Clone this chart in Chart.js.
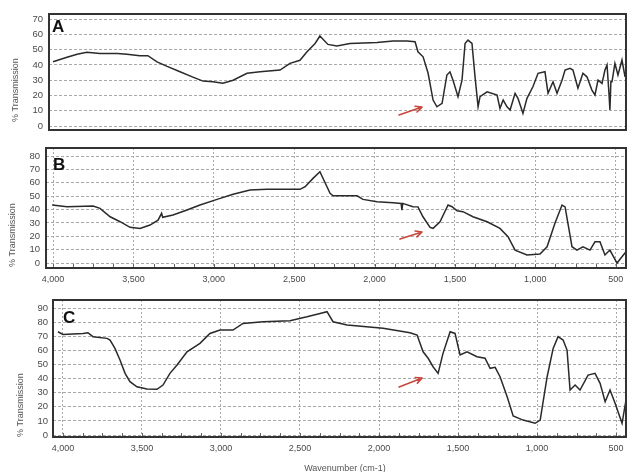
<!DOCTYPE html>
<html><head><meta charset="utf-8">
<script src="https://cdn.jsdelivr.net/npm/chart.js@4.4.1/dist/chart.umd.min.js"></script>
<style>
html,body{margin:0;padding:0;background:#fff;}
body{width:627px;height:472px;position:relative;overflow:hidden;}
canvas{position:absolute;left:0;}
</style></head><body>
<canvas id="cA" width="627" height="133" style="top:0px"></canvas>
<canvas id="cB" width="627" height="152" style="top:135px"></canvas>
<canvas id="cC" width="627" height="182" style="top:290px"></canvas>
<script>
// ---- data (wavenumber cm-1, % transmission) ----
const wavenumberA = [4000,3913,3850,3790,3708,3600,3540,3460,3410,3353,3290,3210,3130,3067,3005,2943,2880,2793,2712,2588,2526,2464,2420,2370,2340,2290,2234,2153,1985,1885,1798,1748,1730,1698,1667,1636,1612,1580,1550,1531,1512,1481,1456,1437,1419,1394,1375,1356,1344,1300,1238,1220,1200,1176,1157,1126,1108,1077,1052,1015,983,940,921,890,865,834,815,784,766,735,704,679,648,629,610,585,567,554,542,536,530,523,505,486,461,442];
const transmissionA = [42,45,47,48.2,47.5,47.5,47,46,46,42,39,35.5,32,29.4,29,28,30,34.5,35.5,36.6,41,43,48.6,54,58.9,53.4,52.3,54,54.7,55.6,55.6,55.1,48.6,45.3,34.5,17,12.6,14.8,33.4,35.5,30,19.2,30,54,56.2,54,32.2,12.6,19.2,22.4,20.3,11.6,17,12.6,10.5,21.4,18.1,8.3,18.1,25.7,34.5,35.5,21.4,29,21.4,30,36.6,37.7,36.6,24.7,34.5,32.2,23.5,20.3,30,27.9,36.6,39.9,21.4,10.5,29,29,41,33.4,43.2,32.2];

const wavenumberB = [4006,3913,3751,3708,3645,3583,3521,3459,3397,3347,3325,3318,3254,3167,3086,2980,2880,2775,2669,2464,2432,2383,2340,2277,2258,2109,2072,1985,1885,1835,1830,1825,1761,1730,1699,1655,1636,1593,1543,1518,1487,1450,1388,1300,1220,1170,1126,1052,971,927,878,834,815,772,741,704,660,629,598,567,536,492,461,436];
const transmissionB = [43.4,42,42.6,40.9,34.6,30.9,26.7,25.9,28.4,32.1,37.2,34.2,35.9,39.6,43.4,47.6,51.4,54.6,55.1,55.1,57.1,63.3,68.3,52.1,50.3,50.3,47.6,45.8,45.1,44.6,39.6,44.6,42.1,42,34.6,26.7,25.9,30.9,43.4,42.1,39.1,38.4,34.6,30.9,25.9,19.7,9.7,6,6.7,12.2,29.7,43.4,42,12.2,9.7,12.2,9.7,15.9,15.9,6,9.7,0,4.7,8.5];

const wavenumberC = [4032,4000,3873,3842,3810,3721,3702,3671,3639,3607,3576,3532,3468,3405,3367,3323,3278,3215,3133,3070,3006,2924,2861,2734,2563,2456,2373,2329,2291,2202,1974,1804,1759,1721,1689,1658,1626,1595,1550,1519,1487,1443,1380,1329,1297,1265,1234,1189,1151,1088,1012,980,936,898,867,835,810,791,759,728,677,633,601,569,538,506,462,437];
const transmissionC = [73.2,71.3,72,72.5,69.7,68.5,67.3,61.4,53.2,43.7,37.8,34.2,32.6,32.4,35.4,43.7,49.6,59,65,72,74.4,74.4,79.1,80.3,81,83.8,86.2,87.4,80.3,78,75.6,72.5,70.9,59,54.4,48.4,43.7,57.9,73.2,72,56.7,59,55.5,54.4,47.3,48,41.3,27.1,13.5,10.6,8.3,10.6,41.3,61.4,69.7,67.3,60.2,31.9,35.4,31.9,42.5,43.7,36.6,23.6,31.9,22.5,8.3,24.8];

// tick labels
const xTickValues = [4000,3500,3000,2500,2000,1500,1000,500];
const xMinorStep = 125;
const yTicksA = [0,10,20,30,40,50,60,70];
const yTicksB = [0,10,20,30,40,50,60,70,80];
const yTicksC = [0,10,20,30,40,50,60,70,80,90];

// red arrows marking the ~1640 cm-1 band: [fromX, fromY, toX, toY] in data units
const arrowA = [1848, 7.2, 1705, 12.4];
const arrowB = [1842, 17.9, 1705, 23.2];
const arrowC = [1873, 34, 1727, 40.4];

const yTitle = '% Transmission';
const xTitle = 'Wavenumber (cm-1)';

// ---- rendering ----
const F = '"Liberation Sans", Arial, sans-serif';

const deco = {
  id: 'panelDeco',
  afterDatasetsDraw(chart, args, o) {
    const {ctx, chartArea: a, scales: {x, y}} = chart;
    ctx.save();
    // minor ticks inside bottom edge
    if (o.minor) {
      ctx.strokeStyle = '#666'; ctx.lineWidth = 1;
      ctx.beginPath();
      for (let v = 4000; v >= x.min; v -= xMinorStep) {
        const px = Math.round(x.getPixelForValue(v)) + 0.5;
        if (px < a.left + 2 || px > a.right - 2) continue;
        ctx.moveTo(px, a.bottom); ctx.lineTo(px, a.bottom - 4);
      }
      ctx.stroke();
    }
    // arrow
    const x1 = x.getPixelForValue(o.arrow[0]), y1 = y.getPixelForValue(o.arrow[1]);
    const x2 = x.getPixelForValue(o.arrow[2]), y2 = y.getPixelForValue(o.arrow[3]);
    ctx.strokeStyle = '#c8463c'; ctx.lineWidth = 1.6; ctx.lineCap = 'round';
    ctx.beginPath(); ctx.moveTo(x1, y1); ctx.lineTo(x2, y2);
    const ang = Math.atan2(y2 - y1, x2 - x1), hl = 7;
    ctx.moveTo(x2, y2); ctx.lineTo(x2 - hl * Math.cos(ang - 0.45), y2 - hl * Math.sin(ang - 0.45));
    ctx.moveTo(x2, y2); ctx.lineTo(x2 - hl * Math.cos(ang + 0.45), y2 - hl * Math.sin(ang + 0.45));
    ctx.stroke();
    // frame
    ctx.strokeStyle = '#333'; ctx.lineWidth = 2;
    ctx.strokeRect(a.left, a.top, a.right - a.left, a.bottom - a.top);
    // panel letter
    ctx.fillStyle = '#111'; ctx.font = 'bold 17px ' + F;
    ctx.textAlign = 'left'; ctx.textBaseline = 'alphabetic';
    ctx.fillText(o.letter, a.left + o.lx, a.top + o.ly);
    // y title
    ctx.fillStyle = '#555'; ctx.font = '9px ' + F;
    ctx.save();
    ctx.translate(o.ytx, o.yty); ctx.rotate(-Math.PI / 2);
    ctx.textAlign = 'left'; ctx.textBaseline = 'middle';
    ctx.fillText(yTitle, 0, 0);
    ctx.restore();
    if (o.xt) {
      ctx.textAlign = 'center'; ctx.textBaseline = 'middle';
      ctx.fillText(xTitle, o.xt[0], o.xt[1]);
    }
    ctx.restore();
  }
};

function makePanel(id, o) {
  const pts = o.wn.map((w, i) => ({x: w, y: o.tr[i]}));
  return new Chart(document.getElementById(id), {
    type: 'line',
    data: {datasets: [{data: pts, borderColor: '#2a2a2a', borderWidth: 1.5, pointRadius: 0, tension: 0, fill: false}]},
    options: {
      responsive: false, animation: false, devicePixelRatio: 1,
      layout: {padding: o.pad},
      plugins: {legend: {display: false}, tooltip: {enabled: false},
        panelDeco: {letter: o.letter, lx: o.lx, ly: o.ly, arrow: o.arrow, ytx: o.ytx, yty: o.yty, xt: o.xt, minor: o.showX}},
      scales: {
        x: {
          type: 'linear', reverse: true, min: o.xmin, max: o.xmax, display: o.showX,
          afterBuildTicks: s => { s.ticks = xTickValues.map(v => ({value: v})); },
          afterFit: s => { s.height = o.xh; s.paddingLeft = 0; s.paddingRight = 0; },
          grid: {color: '#a9a9a9', lineWidth: 1, drawTicks: false},
          border: {display: false, dash: [2, 2]},
          ticks: {padding: 6, color: '#4a4a4a', font: {family: F, size: 9}, maxRotation: 0, autoSkip: false,
            callback: v => Number(v).toLocaleString('en-US')}
        },
        y: {
          type: 'linear', min: o.ymin, max: o.ymax,
          afterBuildTicks: s => { s.ticks = o.yt.map(v => ({value: v})); },
          afterFit: s => { s.width = o.yw; s.paddingTop = 0; s.paddingBottom = 0; },
          grid: {color: '#a9a9a9', lineWidth: 1, drawTicks: false},
          border: {display: false, dash: [3, 2]},
          ticks: {padding: o.ytp, color: '#4a4a4a', font: {family: F, size: 9.5}, autoSkip: false,
            callback: v => String(v)}
        }
      }
    },
    plugins: [deco]
  });
}

makePanel('cA', {wn: wavenumberA, tr: transmissionA, letter: 'A', arrow: arrowA,
  xmin: 436, xmax: 4025, ymin: -2.6, ymax: 73.3, yt: yTicksA, showX: false, xh: 0,
  yw: 49, ytp: 6, pad: {top: 14, right: 1, bottom: 3, left: 0}, lx: 3, ly: 18, ytx: 16, yty: 122});
makePanel('cB', {wn: wavenumberB, tr: transmissionB, letter: 'B', arrow: arrowB,
  xmin: 436, xmax: 4044, ymin: -3.7, ymax: 86, yt: yTicksB, showX: true, xh: 19,
  yw: 46, ytp: 6, pad: {top: 13, right: 1, bottom: 0, left: 0}, lx: 7, ly: 22, ytx: 13, yty: 132});
makePanel('cC', {wn: wavenumberC, tr: transmissionC, letter: 'C', arrow: arrowC,
  xmin: 437, xmax: 4063, ymin: -1.4, ymax: 95.7, yt: yTicksC, showX: true, xh: 35,
  yw: 53, ytp: 5, pad: {top: 10, right: 1, bottom: 0, left: 0}, lx: 10, ly: 23, ytx: 21, yty: 147, xt: [345, 178.5]});
</script>
</body></html>
